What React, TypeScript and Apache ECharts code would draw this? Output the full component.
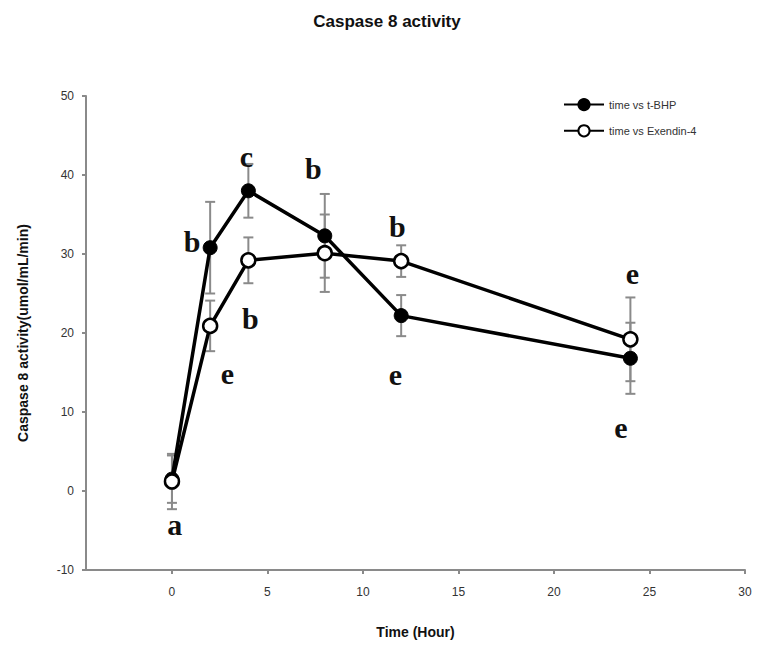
import React, { useEffect, useRef } from "react";
import * as echarts from "echarts";

const hours = [0, 2, 4, 8, 12, 24];
const tbhpMean = [1.5, 30.8, 38.0, 32.3, 22.2, 16.8];
const tbhpErr = [3.0, 5.8, 3.4, 5.3, 2.6, 4.5];
const exendinMean = [1.2, 20.9, 29.2, 30.1, 29.1, 19.2];
const exendinErr = [3.5, 3.2, 2.9, 4.9, 2.0, 5.3];

const letterX = [0.15, 1.05, 2.9, 3.9, 4.1, 7.4, 11.8, 11.7, 24.1, 23.5];
const letterY = [-4.2, 31.6, 14.9, 42.4, 21.8, 40.8, 33.5, 14.8, 27.5, 8.0];
const letterText = ["a", "b", "e", "c", "b", "b", "b", "e", "e", "e"];

const xTicks = [0, 5, 10, 15, 20, 25, 30];

export default function App() {
  const ref = useRef<HTMLDivElement>(null);
  useEffect(() => {
    if (!ref.current) return;
    const chart = echarts.init(ref.current, null, { renderer: "svg" });

    const errRender = (params: any, api: any) => {
      const x = api.value(0);
      const y = api.value(1);
      const e = api.value(2);
      const top = api.coord([x, y + e]);
      const bot = api.coord([x, y - e]);
      const hw = 5;
      const style = { stroke: "#8a8a8a", lineWidth: 2 };
      return {
        type: "group",
        children: [
          { type: "line", shape: { x1: top[0], y1: top[1], x2: bot[0], y2: bot[1] }, style },
          { type: "line", shape: { x1: top[0] - hw, y1: top[1], x2: top[0] + hw, y2: top[1] }, style },
          { type: "line", shape: { x1: bot[0] - hw, y1: bot[1], x2: bot[0] + hw, y2: bot[1] }, style },
        ],
      };
    };

    const letterRender = (params: any, api: any) => {
      const p = api.coord([api.value(0), api.value(1)]);
      return {
        type: "text",
        x: p[0],
        y: p[1],
        style: {
          text: letterText[params.dataIndex],
          fontFamily: "Liberation Serif",
          fontSize: 30,
          fontWeight: "bold",
          fill: "#111",
          align: "center",
          verticalAlign: "middle",
        },
      };
    };

    const labelStyle = { fontFamily: "Liberation Sans", fontSize: 12, color: "#333" };

    chart.setOption({
      animation: false,
      backgroundColor: "#fff",
      title: {
        text: "Caspase 8 activity",
        left: 374,
        textAlign: "center",
        top: 0,
        textStyle: { fontFamily: "Liberation Sans", fontSize: 17, fontWeight: "bold", color: "#111" },
      },
      legend: {
        orient: "vertical",
        left: 550,
        top: 85,
        itemWidth: 40,
        itemHeight: 14,
        itemGap: 13,
        textStyle: { fontFamily: "Liberation Sans", fontSize: 11, color: "#333" },
        data: ["time vs t-BHP", "time vs Exendin-4"],
      },
      grid: { left: 77, right: 15, top: 88, bottom: 78, containLabel: false },
      xAxis: {
        type: "value",
        min: -4.5,
        max: 30,
        name: "Time (Hour)",
        nameLocation: "middle",
        nameGap: 55,
        nameTextStyle: { fontFamily: "Liberation Sans", fontSize: 14, fontWeight: "bold", color: "#111" },
        axisLine: { show: true, onZero: false, lineStyle: { color: "#8a8a8a", width: 2 } },
        axisTick: { show: true, length: 4, customValues: xTicks, lineStyle: { color: "#8a8a8a", width: 2 } },
        axisLabel: { ...labelStyle, margin: 16, customValues: xTicks },
        splitLine: { show: false },
      },
      yAxis: {
        type: "value",
        min: -10,
        max: 50,
        interval: 10,
        name: "Caspase 8 activity(umol/mL/min)",
        nameLocation: "middle",
        nameGap: 56,
        nameTextStyle: { fontFamily: "Liberation Sans", fontSize: 14, fontWeight: "bold", color: "#111" },
        axisLine: { show: true, onZero: false, lineStyle: { color: "#8a8a8a", width: 2 } },
        axisTick: { show: true, length: 4, lineStyle: { color: "#8a8a8a", width: 2 } },
        axisLabel: { ...labelStyle, margin: 12 },
        splitLine: { show: false },
      },
      series: [
        {
          type: "custom",
          name: "err1",
          renderItem: errRender,
          data: hours.map((h, i) => [h, tbhpMean[i], tbhpErr[i]]),
          z: 1,
          silent: true,
        },
        {
          type: "custom",
          name: "err2",
          renderItem: errRender,
          data: hours.map((h, i) => [h, exendinMean[i], exendinErr[i]]),
          z: 1,
          silent: true,
        },
        {
          type: "line",
          name: "time vs t-BHP",
          data: hours.map((h, i) => [h, tbhpMean[i]]),
          symbol: "circle",
          symbolSize: 14,
          lineStyle: { color: "#000", width: 3.5 },
          itemStyle: { color: "#000", borderColor: "#000", borderWidth: 1 },
          z: 3,
        },
        {
          type: "line",
          name: "time vs Exendin-4",
          data: hours.map((h, i) => [h, exendinMean[i]]),
          symbol: "circle",
          symbolSize: 14,
          showAllSymbol: true,
          lineStyle: { color: "#000", width: 3.5 },
          itemStyle: { color: "#fff", borderColor: "#000", borderWidth: 2.5 },
          z: 4,
        },
        {
          type: "custom",
          name: "letters",
          renderItem: letterRender,
          data: letterX.map((x, i) => [x, letterY[i]]),
          z: 5,
          silent: true,
        },
      ],
    });
    return () => chart.dispose();
  }, []);
  return <div ref={ref} style={{ width: 752, height: 640 }} />;
}
